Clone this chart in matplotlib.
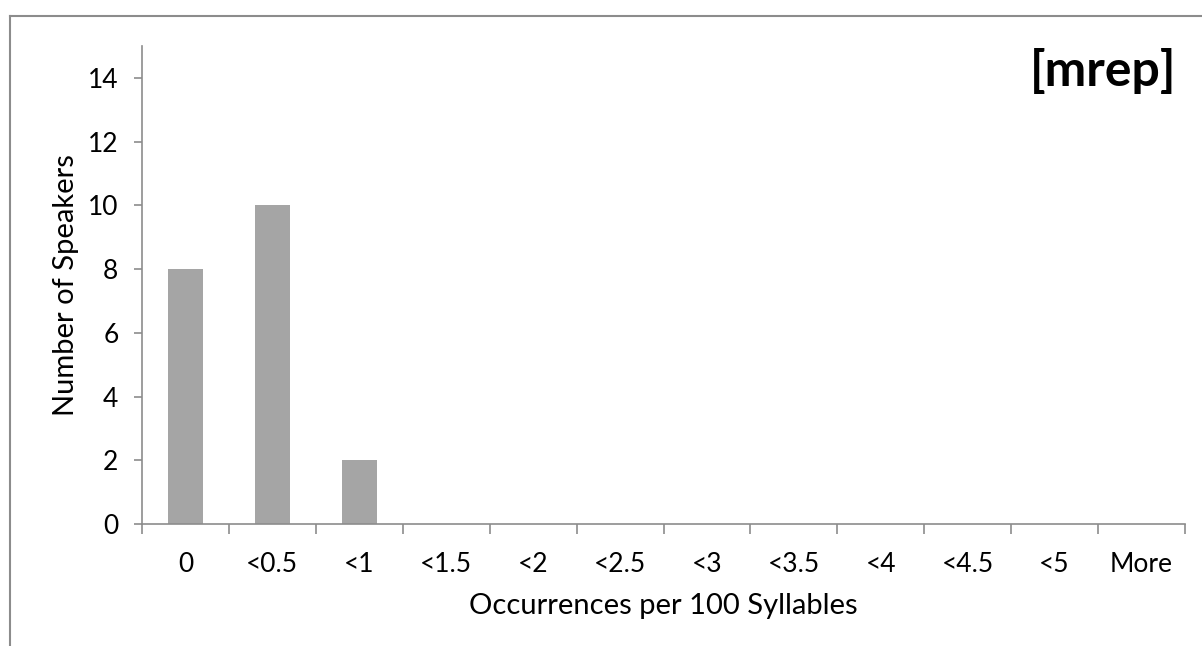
import matplotlib
matplotlib.use("Agg")
import matplotlib.pyplot as plt
from matplotlib.lines import Line2D
import numpy as np

categories = ["0", "<0.5", "<1", "<1.5", "<2", "<2.5", "<3", "<3.5", "<4", "<4.5", "<5", "More"]
speakers = [8, 10, 2, 0, 0, 0, 0, 0, 0, 0, 0, 0]
y_ticks = [0, 2, 4, 6, 8, 10, 12, 14]

plt.rcParams['font.family'] = ['Lato', 'DejaVu Sans']
W, H = 1202, 646
fig = plt.figure(figsize=(W / 100, H / 100), dpi=100)

# chart-area frame (only top and left visible)
frame_col = '#8c8c8c'
fig.add_artist(Line2D([10 / W, 1], [1 - 16 / H, 1 - 16 / H], color=frame_col, lw=1.5, transform=fig.transFigure))
fig.add_artist(Line2D([10 / W, 10 / W], [0, 1 - 16 / H], color=frame_col, lw=1.5, transform=fig.transFigure))

ax = fig.add_axes([142 / W, 1 - 524 / H, (1185 - 142) / W, (524 - 46) / H])
x = np.arange(len(categories))
ax.bar(x, speakers, width=0.4, color='#a5a5a5', zorder=2)

ax.set_xlim(-0.5, len(categories) - 0.5)
ax.set_ylim(0, 15)
ax.set_yticks(y_ticks)
ax.tick_params(axis='y', length=6, width=1.2, color=frame_col, labelsize=19, pad=11)

# boundary ticks, labels in the middle of each category
ax.set_xticks(np.arange(len(categories) + 1) - 0.5)
ax.set_xticklabels([])
ax.set_xticks(x, minor=True)
ax.set_xticklabels(categories, minor=True)
ax.tick_params(axis='x', which='major', length=7, width=1.2, color=frame_col)
ax.tick_params(axis='x', which='minor', length=0, labelsize=19, pad=20)

for s in ['top', 'right']:
    ax.spines[s].set_visible(False)
for s in ['left', 'bottom']:
    ax.spines[s].set_color(frame_col)
    ax.spines[s].set_linewidth(1.2)

ax.set_xlabel("Occurrences per 100 Syllables", fontsize=21, labelpad=12)
ax.set_ylabel("Number of Speakers", fontsize=21, labelpad=6)
ax.text(0.992, 0.995, "[mrep]", transform=ax.transAxes, ha='right', va='top',
        fontsize=36, fontweight='bold')

fig.savefig("out.png", dpi=100)
